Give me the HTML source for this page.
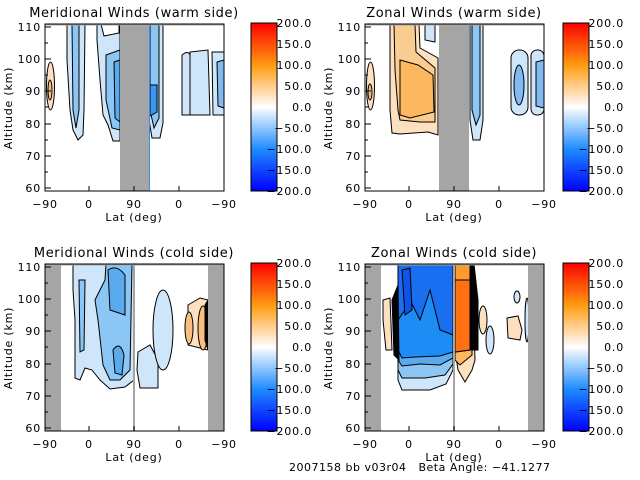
<!DOCTYPE html>
<html><head><meta charset="utf-8"><style>
html,body{margin:0;padding:0;background:#fff;}
svg{display:block;}
text{font-family:"DejaVu Sans","Liberation Sans",sans-serif;fill:#000;}
</style></head><body>
<svg width="640" height="480" viewBox="0 0 640 480" xmlns="http://www.w3.org/2000/svg">
<defs>
<linearGradient id="cb" x1="0" y1="1" x2="0" y2="0">
<stop offset="0" stop-color="#0000ff"/>
<stop offset="0.25" stop-color="#1e8cff"/>
<stop offset="0.5" stop-color="#ffffff"/>
<stop offset="0.75" stop-color="#ff9a10"/>
<stop offset="1" stop-color="#ff0000"/>
</linearGradient>
<g id="axes">
<rect x="45" y="24" width="179" height="167" fill="none" stroke="#000" stroke-width="1"/>
<g stroke="#000" stroke-width="1">
<path d="M45 27h6M45 59h6M45 91h6M45 124h6M45 156h6M45 188h6"/>
<path d="M45 43h3M45 75h3M45 107h3M45 140h3M45 172h3"/>
<path d="M45 191v-5M89 191v-5M134 191v-5M179 191v-5M224 191v-5"/>
</g>
<g font-size="11" text-anchor="end" letter-spacing="0.8">
<text x="41" y="31">110</text><text x="41" y="63">100</text><text x="41" y="95">90</text>
<text x="41" y="128">80</text><text x="41" y="160">70</text><text x="41" y="192">60</text>
</g>
<g font-size="11" text-anchor="middle" letter-spacing="0.8">
<text x="45" y="208">−90</text><text x="89" y="208">0</text><text x="134" y="208">90</text>
<text x="179" y="208">0</text><text x="224" y="208">−90</text>
<text x="134" y="221">Lat (deg)</text>
</g>
<text font-size="11" letter-spacing="0.8" transform="translate(12,108) rotate(-90)" text-anchor="middle">Altitude (km)</text>
</g>
<g id="cbar">
<rect x="0" y="23" width="26" height="168" fill="url(#cb)" stroke="#000"/>
<g font-size="11" text-anchor="end" letter-spacing="0.8">
<text x="61" y="27">200.0</text><text x="61" y="48">150.0</text><text x="61" y="69">100.0</text>
<text x="61" y="90">50.0</text><text x="61" y="111">0.0</text><text x="61" y="132">−50.0</text>
<text x="61" y="153">−100.0</text><text x="61" y="174">−150.0</text><text x="61" y="195">−200.0</text>
</g>
</g>
</defs>

<!-- Panel 1 -->
<g stroke="#000" stroke-width="1">
<ellipse cx="50.5" cy="86" rx="4" ry="24" fill="#fde0bf"/>
<ellipse cx="50" cy="90" rx="2" ry="10" fill="#fbc080"/>
<path d="M67 24 L85 24 L84 110 L83 135 L78 140 L73 130 L70 110 L67 60Z" fill="#cfe6fa"/>
<path d="M72 24 L79 24 L79 110 L76 128 L73 110Z" fill="#8cc6f5"/>
<path d="M97 24 L120 24 L120 141 L113 141 L108 125 L103 115 L100 80 L97 40Z" fill="#cfe6fa"/>
<path d="M101 24 L119 24 L119 33 L104 36Z" fill="#fff"/>
<path d="M106 55 L120 50 L120 130 L112 128 L106 100Z" fill="#8cc6f5"/>
<path d="M114 62 L120 60 L120 122 L115 118Z" fill="#5aaaf0"/>
<path d="M149 24 L163 24 L163 123 L160 138 L152 138 L149 120Z" fill="#cfe6fa"/>
<path d="M150 24 L159 24 L159 118 L154 128 L150 110Z" fill="#8cc6f5"/>
<path d="M150 85 L157 85 L157 112 L150 116Z" fill="#3c96f0"/>
<path d="M182 55 Q188 50 190 55 L190 115 L182 115Z" fill="#cfe6fa"/>
<path d="M190 52 L208 50 L210 115 L190 115Z" fill="#cfe6fa"/>
<path d="M212 52 L224 52 L224 115 L213 115Z" fill="#cfe6fa"/>
<path d="M217 62 L224 60 L224 108 L218 106Z" fill="#7fbaf0"/>
</g>
<rect x="120" y="24" width="29" height="167" fill="#a5a5a5"/>
<line x1="149.5" y1="24" x2="149.5" y2="191" stroke="#3a8ef0"/>
<line x1="45" y1="24.5" x2="224" y2="24.5" stroke="#a5a5a5" stroke-width="2"/>
<use href="#axes"/>
<text x="134" y="17" font-size="13" letter-spacing="0.6" text-anchor="middle">Meridional Winds (warm side)</text>
<use href="#cbar" transform="translate(251,0)"/>

<!-- Panel 2 -->
<g transform="translate(320,0)">
<g stroke="#000" stroke-width="1">
<ellipse cx="50.5" cy="86" rx="4" ry="24" fill="#fde0bf"/>
<ellipse cx="50" cy="92" rx="2" ry="8" fill="#fbc080"/>
<path d="M70 24 L99 24 L100 48 L118 58 L118 135 L108 132 L80 134 L72 133 L70 110Z" fill="#fde0bf"/>
<path d="M74 24 L95 24 L96 52 L115 68 L115 122 L100 122 L80 120 L78 110 L75 70Z" fill="#fbcc90"/>
<path d="M80 60 L98 65 L113 75 L114 112 L90 118 L80 115Z" fill="#fbb860"/>
<path d="M105 24 L115 24 L115 42 L105 40Z" fill="#cfe6fa"/>
<path d="M150 24 L163 24 L163 120 L160 140 L153 140 L150 120Z" fill="#cfe6fa"/>
<path d="M152 24 L160 24 L160 115 L156 125 L152 110Z" fill="#8cc6f5"/>
<rect x="191" y="50" width="17" height="65" rx="8" fill="#cfe6fa"/>
<rect x="211" y="50" width="13" height="65" rx="6" fill="#cfe6fa"/>
<ellipse cx="199" cy="85" rx="5" ry="20" fill="#7fbaf0"/>
<path d="M216 62 L224 60 L224 108 L216 106Z" fill="#7fbaf0"/>
</g>
<rect x="119" y="24" width="30" height="167" fill="#a5a5a5"/>
<line x1="45" y1="24.5" x2="224" y2="24.5" stroke="#a5a5a5" stroke-width="2"/>
<use href="#axes"/>
<text x="134" y="17" font-size="13" letter-spacing="0.6" text-anchor="middle">Zonal Winds (warm side)</text>
<use href="#cbar" transform="translate(243,0)"/>
</g>

<!-- Panel 3 -->
<g transform="translate(0,240)">
<g stroke="#000" stroke-width="1">
<path d="M73 24 L106 24 L106 40 L134 24 L134 140 L125 147 L110 149 L100 140 L92 130 L85 128 L80 140 L75 138 L75 80 L73 50Z" fill="#cfe6fa"/>
<path d="M106 24 L132 24 L130 130 L120 140 L110 140 L103 125 L98 80 L95 60 L105 40Z" fill="#8cc6f5"/>
<path d="M108 30 Q117 24 125 35 L125 75 L110 70Z" fill="#5aaaf0"/>
<path d="M113 110 Q120 100 124 115 L122 135 L115 133Z" fill="#5aaaf0"/>
<path d="M79 40 L85 40 L84 110 L80 112Z" fill="#8cc6f5"/>
<path d="M138 112 L150 105 L158 120 L158 148 L140 148 L137 130Z" fill="#cfe6fa"/>
<ellipse cx="163" cy="90" rx="10" ry="40" fill="#cfe6fa"/>
<path d="M188 65 L200 58 L208 60 L208 110 L200 108 L188 105Z" fill="#fde0bf"/>
<ellipse cx="189" cy="88" rx="4" ry="16" fill="#fbc080"/>
<ellipse cx="203" cy="88" rx="5" ry="22" fill="#fbc080"/>
<path d="M205 65 L208 60 L208 110 L205 100Z" fill="#000"/>
</g>
<rect x="45" y="24" width="16" height="167" fill="#a5a5a5"/>
<rect x="208" y="24" width="16" height="167" fill="#a5a5a5"/>
<line x1="134" y1="24" x2="134" y2="191" stroke="#a5a5a5" stroke-width="2"/>
<line x1="45" y1="24.5" x2="224" y2="24.5" stroke="#a5a5a5" stroke-width="2"/>
<use href="#axes"/>
<text x="134" y="17" font-size="13" letter-spacing="0.6" text-anchor="middle">Meridional Winds (cold side)</text>
<use href="#cbar" transform="translate(251,0)"/>
</g>

<!-- Panel 4 -->
<g transform="translate(320,240)">
<g stroke="#000" stroke-width="1">
<path d="M78 24 L133 24 L133 130 L126 144 L110 150 L82 150 L78 140Z" fill="#cfe6fa"/>
<path d="M78 24 L133 24 L133 124 L125 135 L105 138 L82 138 L78 130Z" fill="#8cc6f5"/>
<path d="M78 24 L133 24 L133 118 L120 125 L100 124 L82 126 L78 120Z" fill="#5aaaf0"/>
<path d="M78 24 L133 24 L133 112 L120 116 L95 117 L82 118 L78 110Z" fill="#1e8cf5"/>
<path d="M78 24 L133 24 L133 95 L120 90 L110 50 L100 80 L90 60 L85 70 L78 80Z" fill="#1a6ef0"/>
<path d="M82 30 L90 28 L92 70 L85 75Z" fill="#0d55e8"/>
<path d="M63 60 L70 58 L72 110 L66 110 L63 80Z" fill="#fde0bf"/>
<path d="M72 60 L78 45 L79 120 L74 115Z" fill="#000"/>
<path d="M135 24 L152 24 L155 120 L152 130 L145 142 L138 130 L135 110Z" fill="#fde0bf"/>
<path d="M135 24 L152 24 L152 115 L140 125 L135 120Z" fill="#fbb860"/>
<path d="M135 24 L150 24 L150 110 L135 112Z" fill="#ff9a30"/>
<path d="M135 40 L150 40 L150 110 L135 112Z" fill="#ff7010"/>
<path d="M150 24 L154 24 L158 60 L158 110 L151 110Z" fill="#000"/>
<ellipse cx="163" cy="80" rx="4" ry="14" fill="#fde0bf"/>
<ellipse cx="170" cy="100" rx="4" ry="14" fill="#cfe6fa"/>
<path d="M187 78 L198 76 L202 90 L200 100 L188 98Z" fill="#fde0bf"/>
<ellipse cx="197" cy="57" rx="3" ry="6" fill="#cfe6fa"/>
<ellipse cx="207" cy="80" rx="2" ry="22" fill="#cfe6fa"/>
</g>
<rect x="45" y="24" width="16" height="167" fill="#a5a5a5"/>
<rect x="208" y="24" width="16" height="167" fill="#a5a5a5"/>
<line x1="134" y1="24" x2="134" y2="191" stroke="#a5a5a5" stroke-width="2"/>
<line x1="45" y1="24.5" x2="224" y2="24.5" stroke="#a5a5a5" stroke-width="2"/>
<use href="#axes"/>
<text x="134" y="17" font-size="13" letter-spacing="0.6" text-anchor="middle">Zonal Winds (cold side)</text>
<use href="#cbar" transform="translate(243,0)"/>
</g>

<text x="289" y="471" font-size="11" letter-spacing="0.5" xml:space="preserve" style="white-space:pre">2007158 bb v03r04   Beta Angle: −41.1277</text>
</svg>
</body></html>
